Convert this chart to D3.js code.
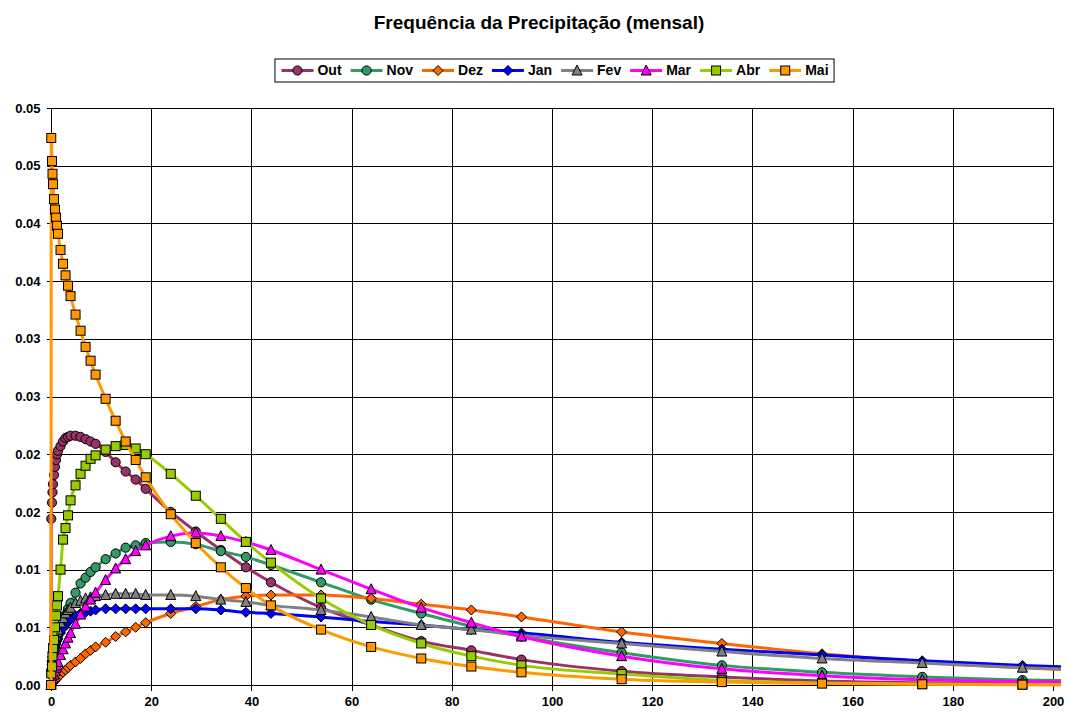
<!DOCTYPE html>
<html>
<head>
<meta charset="utf-8">
<script src="https://cdn.jsdelivr.net/npm/d3@7"></script>
<style>
  html, body { margin: 0; padding: 0; background: #fff; }
  svg { display: block; font-family: "Liberation Sans", Arial, sans-serif; }
</style>
</head>
<body>
<svg id="chart" width="1070" height="713"></svg>
<script>
// Precipitation amounts (mm) at which each monthly density is evaluated
const precip = [0, 0.05, 0.2, 0.3, 0.4, 0.6, 0.8, 1, 1.2, 1.4, 1.9, 2.4, 2.9, 3.4, 3.9,
  4.9, 5.9, 6.9, 7.9, 8.9, 10.9, 12.9, 14.9, 16.9, 18.9, 23.9, 28.9, 33.9, 38.9, 43.9,
  53.9, 63.9, 73.9, 83.9, 93.9, 113.9, 133.9, 153.9, 173.9, 193.9, 213.9];

// Monthly frequency curves
const out = [0, 0.0144, 0.0158, 0.0167, 0.0174, 0.0182, 0.0189, 0.0195, 0.0200, 0.0203, 0.0207,
  0.0211, 0.0214, 0.0215, 0.0216, 0.0216, 0.0215, 0.0213, 0.0211, 0.0209, 0.0202, 0.0193, 0.0185,
  0.0178, 0.0170, 0.0150, 0.0133, 0.0117, 0.0102, 0.0089, 0.0067, 0.0052, 0.0038, 0.0030, 0.0022,
  0.0012, 0.0007, 0.00035, 0.0002, 0.0001, 0.00006];
const nov = [0, 0.0009, 0.0018, 0.0021, 0.0024, 0.0029, 0.0033, 0.0037, 0.0040, 0.0043, 0.0050,
  0.0056, 0.0061, 0.0066, 0.0071, 0.0080, 0.0088, 0.0093, 0.0098, 0.0102, 0.0109, 0.0114, 0.0119,
  0.0121, 0.0123, 0.0124, 0.0122, 0.0116, 0.0111, 0.0104, 0.0089, 0.0074, 0.0062, 0.0051, 0.0042,
  0.0028, 0.0017, 0.0011, 0.0007, 0.00043, 0.0003];
const dez = [0, 0.00002, 0.0001, 0.00015, 0.0002, 0.0003, 0.0004, 0.0005, 0.0006, 0.0007, 0.0009,
  0.0011, 0.0013, 0.0015, 0.0017, 0.0020, 0.0023, 0.0027, 0.0030, 0.0033, 0.0037, 0.0042, 0.0046,
  0.0050, 0.0054, 0.0062, 0.0068, 0.0074, 0.0077, 0.0078, 0.0078, 0.0075, 0.0070, 0.0065, 0.0059,
  0.0046, 0.0036, 0.0027, 0.0020, 0.0015, 0.0011];
const jan = [0, 0.0012, 0.0018, 0.0021, 0.0024, 0.0028, 0.0032, 0.0035, 0.0038, 0.0040, 0.0045,
  0.0049, 0.0052, 0.0055, 0.0057, 0.0060, 0.0062, 0.0063, 0.0064, 0.0065, 0.0066, 0.0066, 0.0066,
  0.0066, 0.0066, 0.0066, 0.0066, 0.0065, 0.0063, 0.0062, 0.0059, 0.0055, 0.0052, 0.0048, 0.0045,
  0.0037, 0.0031, 0.0026, 0.0021, 0.0017, 0.0014];
const fev = [0, 0.0016, 0.0024, 0.0028, 0.0031, 0.0036, 0.0040, 0.0043, 0.0046, 0.0048, 0.0054,
  0.0058, 0.0062, 0.0065, 0.0067, 0.0071, 0.0073, 0.0075, 0.0076, 0.0077, 0.0078, 0.0079, 0.0079,
  0.0079, 0.0078, 0.0078, 0.0077, 0.0074, 0.0072, 0.0069, 0.0065, 0.0059, 0.0052, 0.0048, 0.0043,
  0.0036, 0.0029, 0.0023, 0.0019, 0.0015, 0.0012];
const mar = [0, 0.0001, 0.0003, 0.0005, 0.0006, 0.0009, 0.0012, 0.0015, 0.0017, 0.0020, 0.0026,
  0.0031, 0.0036, 0.0041, 0.0045, 0.0053, 0.0061, 0.0068, 0.0074, 0.0080, 0.0091, 0.0101, 0.0109,
  0.0116, 0.0121, 0.0129, 0.0132, 0.0129, 0.0124, 0.0117, 0.0100, 0.0083, 0.0067, 0.0054, 0.0042,
  0.0025, 0.0014, 0.0008, 0.00045, 0.0003, 0.0002];
const abr = [0, 0.0010, 0.0016, 0.0025, 0.0032, 0.0039, 0.0050, 0.0060, 0.0069, 0.0077, 0.0100,
  0.0126, 0.0136, 0.0147, 0.0160, 0.0173, 0.0183, 0.0190, 0.0196, 0.0199, 0.0204, 0.0207, 0.0208,
  0.0205, 0.0200, 0.0183, 0.0164, 0.0144, 0.0124, 0.0106, 0.0075, 0.0052, 0.0036, 0.0025, 0.0017,
  0.00095, 0.0004, 0.00018, 0.00008, 0.00004, 0.00002];
const mai = [0, 0.0474, 0.0454, 0.0443, 0.0434, 0.0421, 0.0412, 0.0405, 0.0398, 0.0391, 0.0377,
  0.0365, 0.0355, 0.0346, 0.0337, 0.0321, 0.0307, 0.0293, 0.0281, 0.0269, 0.0248, 0.0229, 0.0211,
  0.0195, 0.0180, 0.0148, 0.0123, 0.0102, 0.0084, 0.0069, 0.0048, 0.0033, 0.0023, 0.0016, 0.0011,
  0.0005, 0.00025, 0.00012, 0.00006, 0.00003, 0.00002];

const monthNames = ["Out", "Nov", "Dez", "Jan", "Fev", "Mar", "Abr", "Mai"];
const monthValues = [out, nov, dez, jan, fev, mar, abr, mai];
const monthColors = ["#993366", "#339966", "#FF6600", "#0000FF", "#808080", "#FF00FF", "#99CC00", "#FF9900"];
const monthMarkers = ["circle", "circle", "diamond", "diamond", "triangle", "triangle", "square", "square"];

const yTickValues = [0, 0.005, 0.01, 0.015, 0.02, 0.025, 0.03, 0.035, 0.04, 0.045, 0.05];
const yTickLabels = ["0.00", "0.01", "0.01", "0.02", "0.02", "0.03", "0.03", "0.04", "0.04", "0.05", "0.05"];
const xTickValues = [0, 20, 40, 60, 80, 100, 120, 140, 160, 180, 200];

const titleText = "Frequência da Precipitação (mensal)";

const svg = d3.select("#chart");
const plot = { left: 51, right: 1053, top: 108, bottom: 685 };

const x = d3.scaleLinear().domain([0, 200]).range([plot.left, plot.right]);
const y = d3.scaleLinear().domain([0, 0.05]).range([plot.bottom, plot.top]);

// Title
svg.append("text")
  .attr("x", 539).attr("y", 29)
  .attr("text-anchor", "middle")
  .attr("font-size", 19).attr("font-weight", "bold")
  .text(titleText);

// Gridlines
const grid = svg.append("g").attr("shape-rendering", "crispEdges");
grid.selectAll("line.h").data(yTickValues).join("line")
  .attr("x1", plot.left).attr("x2", plot.right)
  .attr("y1", d => Math.round(y(d)) + 0.5).attr("y2", d => Math.round(y(d)) + 0.5)
  .attr("stroke", "#000").attr("stroke-width", 1);
grid.selectAll("line.v").data(xTickValues.slice(1)).join("line")
  .attr("x1", d => Math.round(x(d)) + 0.5).attr("x2", d => Math.round(x(d)) + 0.5)
  .attr("y1", plot.top).attr("y2", plot.bottom)
  .attr("stroke", "#000").attr("stroke-width", 1);

// Axes
const yAxis = d3.axisLeft(y).tickValues(yTickValues).tickSize(5).tickPadding(6)
  .tickFormat((d, i) => yTickLabels[i]);
const xAxis = d3.axisBottom(x).tickValues(xTickValues).tickSize(5).tickPadding(6)
  .tickFormat(d3.format("d"));

const gy = svg.append("g").attr("transform", `translate(${plot.left + 0.5},0)`).call(yAxis);
const gx = svg.append("g").attr("transform", `translate(0,${plot.bottom + 0.5})`).call(xAxis);
[gy, gx].forEach(g => {
  g.select(".domain").attr("stroke", "#000").attr("shape-rendering", "crispEdges");
  g.selectAll(".tick line").attr("stroke", "#000").attr("shape-rendering", "crispEdges");
  g.selectAll(".tick text").attr("font-size", 13).attr("font-weight", "bold")
    .attr("font-family", '"Liberation Sans", Arial, sans-serif').attr("fill", "#000");
});
gy.select(".domain").attr("d", `M-5,${plot.top}H0V${plot.bottom}H-5`);
gx.select(".domain").attr("d", `M${plot.left},5V0H${plot.right}V5`);

// Series
svg.append("defs").append("clipPath").attr("id", "plotClip")
  .append("rect").attr("x", plot.left - 6).attr("y", plot.top - 10)
  .attr("width", plot.right - plot.left + 14).attr("height", plot.bottom - plot.top + 16);

const line = d3.line()
  .x((d, i) => x(precip[i]))
  .y(d => y(d))
  .curve(d3.curveMonotoneX);

function drawMarker(g, type, color) {
  if (type === "circle") {
    g.append("circle").attr("r", 4.6);
  } else if (type === "square") {
    g.append("rect").attr("x", -4.5).attr("y", -4.5).attr("width", 9).attr("height", 9);
  } else if (type === "diamond") {
    g.append("path").attr("d", "M0,-5L5,0L0,5L-5,0Z");
  } else {
    g.append("path").attr("d", "M0,-5.5L5,4.5L-5,4.5Z");
  }
  g.selectAll("*").attr("fill", color).attr("stroke", "#000").attr("stroke-width", 1);
}

const seriesLayer = svg.append("g").attr("clip-path", "url(#plotClip)");
monthNames.forEach((name, k) => {
  const vals = monthValues[k];
  const g = seriesLayer.append("g");
  g.append("path")
    .attr("d", line(vals))
    .attr("fill", "none")
    .attr("stroke", monthColors[k])
    .attr("stroke-width", 3)
    .attr("stroke-linejoin", "round");
  const inside = vals.map((v, i) => ({ v, i })).filter(p => precip[p.i] <= 200);
  g.selectAll("g.m").data(inside).join("g")
    .attr("transform", p => `translate(${x(precip[p.i])},${y(p.v)})`)
    .each(function () { drawMarker(d3.select(this), monthMarkers[k], monthColors[k]); });
});

// Legend
const legend = svg.append("g");
const items = legend.selectAll("g").data(monthNames).join("g");
items.append("text")
  .attr("font-size", 14).attr("font-weight", "bold")
  .attr("dy", "0.35em")
  .text(d => d);
let cursor = 0;
const gap = 9, sample = 32, textGap = 4;
items.each(function (d, k) {
  const g = d3.select(this);
  const w = g.select("text").node().getComputedTextLength();
  g.attr("transform", `translate(${cursor},0)`);
  g.append("line").attr("x1", 0).attr("x2", sample).attr("y1", 0).attr("y2", 0)
    .attr("stroke", monthColors[k]).attr("stroke-width", 3);
  const m = g.append("g").attr("transform", `translate(${sample / 2},0)`);
  drawMarker(m, monthMarkers[k], monthColors[k]);
  g.select("text").attr("x", sample + textGap).raise();
  cursor += sample + textGap + w + gap;
});
const legendWidth = cursor - gap;
const legendX = 555 - legendWidth / 2;
const legendY = 70.5;
legend.attr("transform", `translate(${legendX},${legendY})`);
legend.insert("rect", ":first-child")
  .attr("x", -6.5).attr("y", -11.5)
  .attr("width", legendWidth + 12).attr("height", 23)
  .attr("fill", "#fff").attr("stroke", "#000").attr("stroke-width", 1);
</script>
</body>
</html>
